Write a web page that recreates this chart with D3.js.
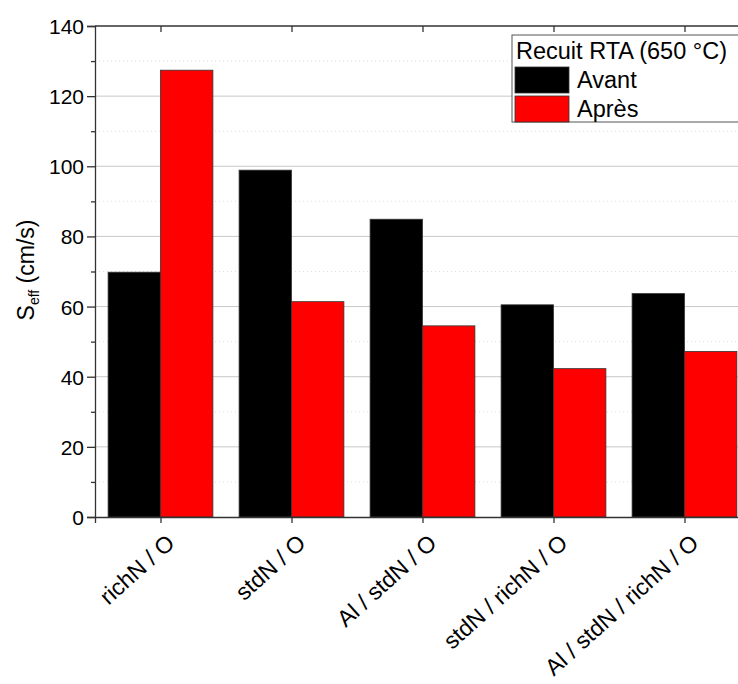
<!DOCTYPE html>
<html><head><meta charset="utf-8">
<script src="https://cdn.jsdelivr.net/npm/d3@7"></script>
<style>body{margin:0;background:#fff}svg{display:block}svg text{font-family:"Liberation Sans",Arial,sans-serif}</style>
</head><body><svg id="c" width="738" height="684"></svg>
<script>
const categories = ["richN / O","stdN / O","Al / stdN / O","stdN / richN / O","Al / stdN / richN / O"];
const avant = [69.8, 98.9, 84.9, 60.5, 63.7];
const apres = [127.4, 61.4, 54.5, 42.3, 47.2];
const seriesNames = ["Avant","Après"];
const seriesColors = ["#000000","#ff0000"];
const majorTicks = [0,20,40,60,80,100,120,140];
const minorTicks = [10,30,50,70,90,110,130];

const svg = d3.select("#c");
const FF = "Liberation Sans, Arial, sans-serif";
const L = 95, R = 750, T = 26, B = 517;
const x = d3.scaleBand().domain(categories).range([L,R]).paddingInner(0.2).paddingOuter(0.1);
const xc = d3.scalePoint().domain(categories).range([L,R]).padding(0.5);
const y = d3.scaleLinear().domain([0,140]).range([B,T]);
const bw = x.bandwidth()/2;

// grid
svg.append("g").selectAll("line").data(majorTicks.filter(d=>d>0&&d<140)).join("line")
  .attr("x1",L).attr("x2",R).attr("y1",d=>y(d)).attr("y2",d=>y(d))
  .attr("stroke","#c8c8c8").attr("stroke-width",1);
svg.append("g").selectAll("line").data(minorTicks).join("line")
  .attr("x1",L).attr("x2",R).attr("y1",d=>y(d)).attr("y2",d=>y(d))
  .attr("stroke","#dcdcdc").attr("stroke-width",1).attr("stroke-dasharray","1,3");

// bars
const series = [avant, apres];
series.forEach((vals,si)=>{
  svg.append("g").selectAll("rect").data(vals).join("rect")
    .attr("x",(d,i)=>xc(categories[i]) - bw + si*bw)
    .attr("width",bw)
    .attr("y",d=>y(d)).attr("height",d=>y(0)-y(d))
    .attr("fill",seriesColors[si]).attr("stroke","#333").attr("stroke-width",0.8);
});

// axes
const yAxis = svg.append("g").attr("transform",`translate(${L},0)`)
  .call(d3.axisLeft(y).tickValues(majorTicks).tickSize(8).tickPadding(3));
yAxis.attr("font-family",FF);
yAxis.select(".domain").attr("stroke","#333").attr("stroke-width",1.3);
yAxis.selectAll(".tick line").attr("stroke","#333").attr("stroke-width",1.3);
yAxis.selectAll("text").attr("font-size",21).attr("fill","#000").attr("dy","0.36em");
const yMinor = svg.append("g").attr("transform",`translate(${L},0)`)
  .call(d3.axisLeft(y).tickValues(minorTicks).tickSize(4).tickFormat(""));
yMinor.select(".domain").remove();
yMinor.selectAll(".tick line").attr("stroke","#333").attr("stroke-width",1.3);

const xAxis = svg.append("g").attr("transform",`translate(0,${B})`)
  .call(d3.axisBottom(xc).tickSize(6).tickPadding(4));
xAxis.attr("font-family",FF);
xAxis.select(".domain").attr("stroke","#333").attr("stroke-width",1.3);
xAxis.selectAll(".tick line").attr("stroke","#333").attr("stroke-width",1.3);
xAxis.selectAll("text").attr("font-size",23).attr("fill","#000")
  .attr("text-anchor","end").attr("dy",null).attr("y",0)
  .attr("transform","translate(15,28) rotate(-42)");

const xTop = svg.append("g").attr("transform",`translate(0,${T})`)
  .call(d3.axisBottom(xc).tickSize(6).tickFormat(""));
xTop.select(".domain").remove();
xTop.selectAll(".tick line").attr("stroke","#333").attr("stroke-width",1.3);
svg.append("line").attr("x1",L).attr("x2",R).attr("y1",T).attr("y2",T).attr("stroke","#333").attr("stroke-width",1.3);

// y label
const yl = svg.append("text").attr("transform","translate(34,270) rotate(-90)")
  .attr("text-anchor","middle").attr("font-size",23);
yl.append("tspan").text("S");
yl.append("tspan").attr("font-size",14).attr("dy",5).text("eff");
yl.append("tspan").attr("dy",-5).text(" (cm/s)");

// legend
const lg = svg.append("g");
lg.append("rect").attr("x",512).attr("y",35).attr("width",240).attr("height",87)
  .attr("fill","#fff").attr("stroke","#555").attr("stroke-width",1);
lg.append("text").attr("x",516).attr("y",59).attr("font-size",23.5).text("Recuit RTA (650 °C)");
seriesNames.forEach((n,i)=>{
  lg.append("rect").attr("x",515).attr("y",67+i*29).attr("width",54).attr("height",26)
    .attr("fill",seriesColors[i]).attr("stroke","#333").attr("stroke-width",0.8);
  lg.append("text").attr("x",577).attr("y",88+i*29).attr("font-size",23.5).text(n);
});
</script></body></html>
